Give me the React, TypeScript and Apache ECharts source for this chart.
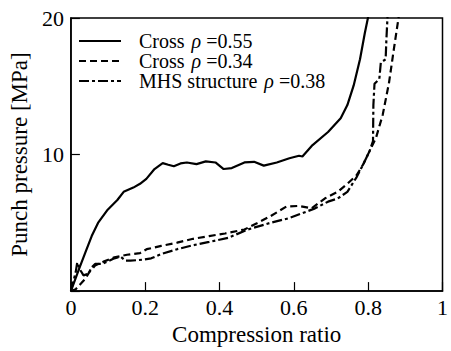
import React, { useEffect, useRef } from "react";
import * as echarts from "echarts";

const xTicks = [0, 0.2, 0.4, 0.6, 0.8, 1];
const yTicks = [0, 10, 20];

const seriesNames = ["Cross ρ=0.55", "Cross ρ=0.34", "MHS structure ρ=0.38"];
const legendParts = [
  ["Cross", "0.55"],
  ["Cross", "0.34"],
  ["MHS structure", "0.38"],
];

const cross055: number[][] = [
  [0, 0], [0.022, 1.63], [0.039, 2.83], [0.056, 4.03], [0.073, 4.99], [0.099, 5.96],
  [0.125, 6.67], [0.142, 7.27], [0.168, 7.58], [0.186, 7.86], [0.203, 8.22], [0.225, 8.94],
  [0.247, 9.37], [0.262, 9.25], [0.277, 9.14], [0.295, 9.35], [0.312, 9.42], [0.338, 9.3],
  [0.363, 9.5], [0.389, 9.42], [0.411, 8.94], [0.433, 9.01], [0.467, 9.42], [0.493, 9.47],
  [0.519, 9.19], [0.554, 9.42], [0.588, 9.73], [0.614, 9.91], [0.623, 9.86], [0.648, 10.63],
  [0.692, 11.65], [0.726, 12.66], [0.744, 13.62], [0.761, 15.06], [0.778, 16.98],
  [0.791, 18.9], [0.8, 20.09], [0.805, 21],
];

const cross034: number[][] = [
  [0, 0], [0.013, 0.14], [0.027, 0.55], [0.039, 0.91], [0.049, 1.37], [0.065, 1.87],
  [0.088, 2.16], [0.117, 2.47], [0.151, 2.66], [0.186, 2.78], [0.204, 3.07], [0.243, 3.31],
  [0.286, 3.55], [0.329, 3.83], [0.372, 4.03], [0.415, 4.22], [0.467, 4.51], [0.502, 4.99],
  [0.536, 5.47], [0.58, 6.19], [0.614, 6.24], [0.648, 6.06], [0.683, 6.78], [0.718, 7.27],
  [0.744, 7.86], [0.769, 8.49], [0.787, 9.3], [0.804, 10.27], [0.821, 11.22], [0.839, 12.9],
  [0.856, 15.25], [0.869, 17.7], [0.882, 20.07], [0.885, 21],
];

const mhs038: number[][] = [
  [0, 0], [0.013, 1.39], [0.017, 2.11], [0.026, 1.51], [0.034, 1.15], [0.047, 1.27],
  [0.056, 1.75], [0.065, 1.99], [0.082, 1.99], [0.099, 2.16], [0.117, 2.4], [0.134, 2.52],
  [0.147, 2.23], [0.16, 2.23], [0.194, 2.3], [0.216, 2.4], [0.243, 2.71], [0.286, 3.07],
  [0.329, 3.36], [0.372, 3.6], [0.424, 3.91], [0.476, 4.51], [0.536, 4.99], [0.588, 5.35],
  [0.623, 5.71], [0.657, 6.06], [0.692, 6.55], [0.718, 6.78], [0.744, 7.27], [0.769, 8.35],
  [0.787, 9.3], [0.804, 10.27], [0.813, 10.99], [0.814, 13.62], [0.817, 15.18], [0.83, 15.54],
  [0.834, 16.74], [0.847, 16.98], [0.849, 18.42], [0.852, 20.07], [0.853, 21],
];

const FONT = "Liberation Serif";

export default function App() {
  const ref = useRef<HTMLDivElement>(null);
  useEffect(() => {
    if (!ref.current) return;
    const chart = echarts.init(ref.current, undefined, { renderer: "svg" });
    const lineTypes: any[] = ["solid", [7, 4], [10, 3, 3, 3]];
    const datasets = [cross055, cross034, mhs038];
    const LF = 20;
    const LH = 19.5;
    chart.setOption({
      animation: false,
      backgroundColor: "#fff",
      textStyle: { fontFamily: FONT },
      grid: {
        left: 63,
        right: 2,
        top: 18,
        bottom: 55,
        show: true,
        borderColor: "#000",
        borderWidth: 1.5,
        backgroundColor: "transparent",
      },
      legend: {
        orient: "vertical",
        left: 78,
        top: 31,
        padding: 0,
        itemWidth: 42,
        itemHeight: 14,
        itemGap: 0,
        data: seriesNames,
        itemStyle: { opacity: 0, borderWidth: 0 },
        formatter: (name: string) => {
          const i = seriesNames.indexOf(name);
          const p = legendParts[i];
          return `{n|${p[0]}}{s| }{g|ρ}{n| =${p[1]}}`;
        },
        textStyle: {
          fontFamily: FONT,
          padding: [0, 0, 0, 13],
          rich: {
            n: { fontFamily: FONT, fontSize: LF, color: "#000", lineHeight: LH },
            s: { fontFamily: FONT, fontSize: LF, color: "#000", lineHeight: LH, width: 7 },
            g: { fontFamily: FONT, fontSize: LF, fontStyle: "italic", color: "#000", lineHeight: LH },
          },
        },
      },
      xAxis: {
        type: "value",
        min: xTicks[0],
        max: xTicks[xTicks.length - 1],
        interval: 0.2,
        name: "Compression ratio",
        nameLocation: "middle",
        nameGap: 28,
        nameTextStyle: { fontFamily: FONT, fontSize: 23, color: "#000" },
        axisLine: { show: true, lineStyle: { color: "#000", width: 1.5 } },
        axisTick: { show: true, inside: true, length: 9, lineStyle: { color: "#000", width: 1.2 } },
        axisLabel: {
          fontFamily: FONT,
          fontSize: 22,
          color: "#000",
          margin: 5,
          formatter: (v: number) => String(Math.round(v * 10) / 10),
        },
        splitLine: { show: false },
      },
      yAxis: {
        type: "value",
        min: yTicks[0],
        max: yTicks[yTicks.length - 1],
        interval: 10,
        name: "Punch pressure [MPa]",
        nameLocation: "middle",
        nameGap: 34,
        nameTextStyle: { fontFamily: FONT, fontSize: 23, color: "#000" },
        axisLine: { show: true, lineStyle: { color: "#000", width: 1.5 } },
        axisTick: { show: true, inside: true, length: 9, lineStyle: { color: "#000", width: 1.2 } },
        axisLabel: {
          fontFamily: FONT,
          fontSize: 22,
          color: "#000",
          margin: 7,
          formatter: (v: number) => (v === 0 ? "" : String(v)),
        },
        splitLine: { show: false },
      },
      series: datasets.map((d, i) => ({
        name: seriesNames[i],
        type: "line",
        data: d,
        symbol: "none",
        clip: true,
        lineStyle: { color: "#000", width: 2.2, type: lineTypes[i] },
        itemStyle: { color: "#000" },
      })),
    });
    return () => chart.dispose();
  }, []);
  return (
    <div
      ref={ref}
      style={{ position: "fixed", left: 0, top: 0, width: 451, height: 351, background: "#fff" }}
    />
  );
}
